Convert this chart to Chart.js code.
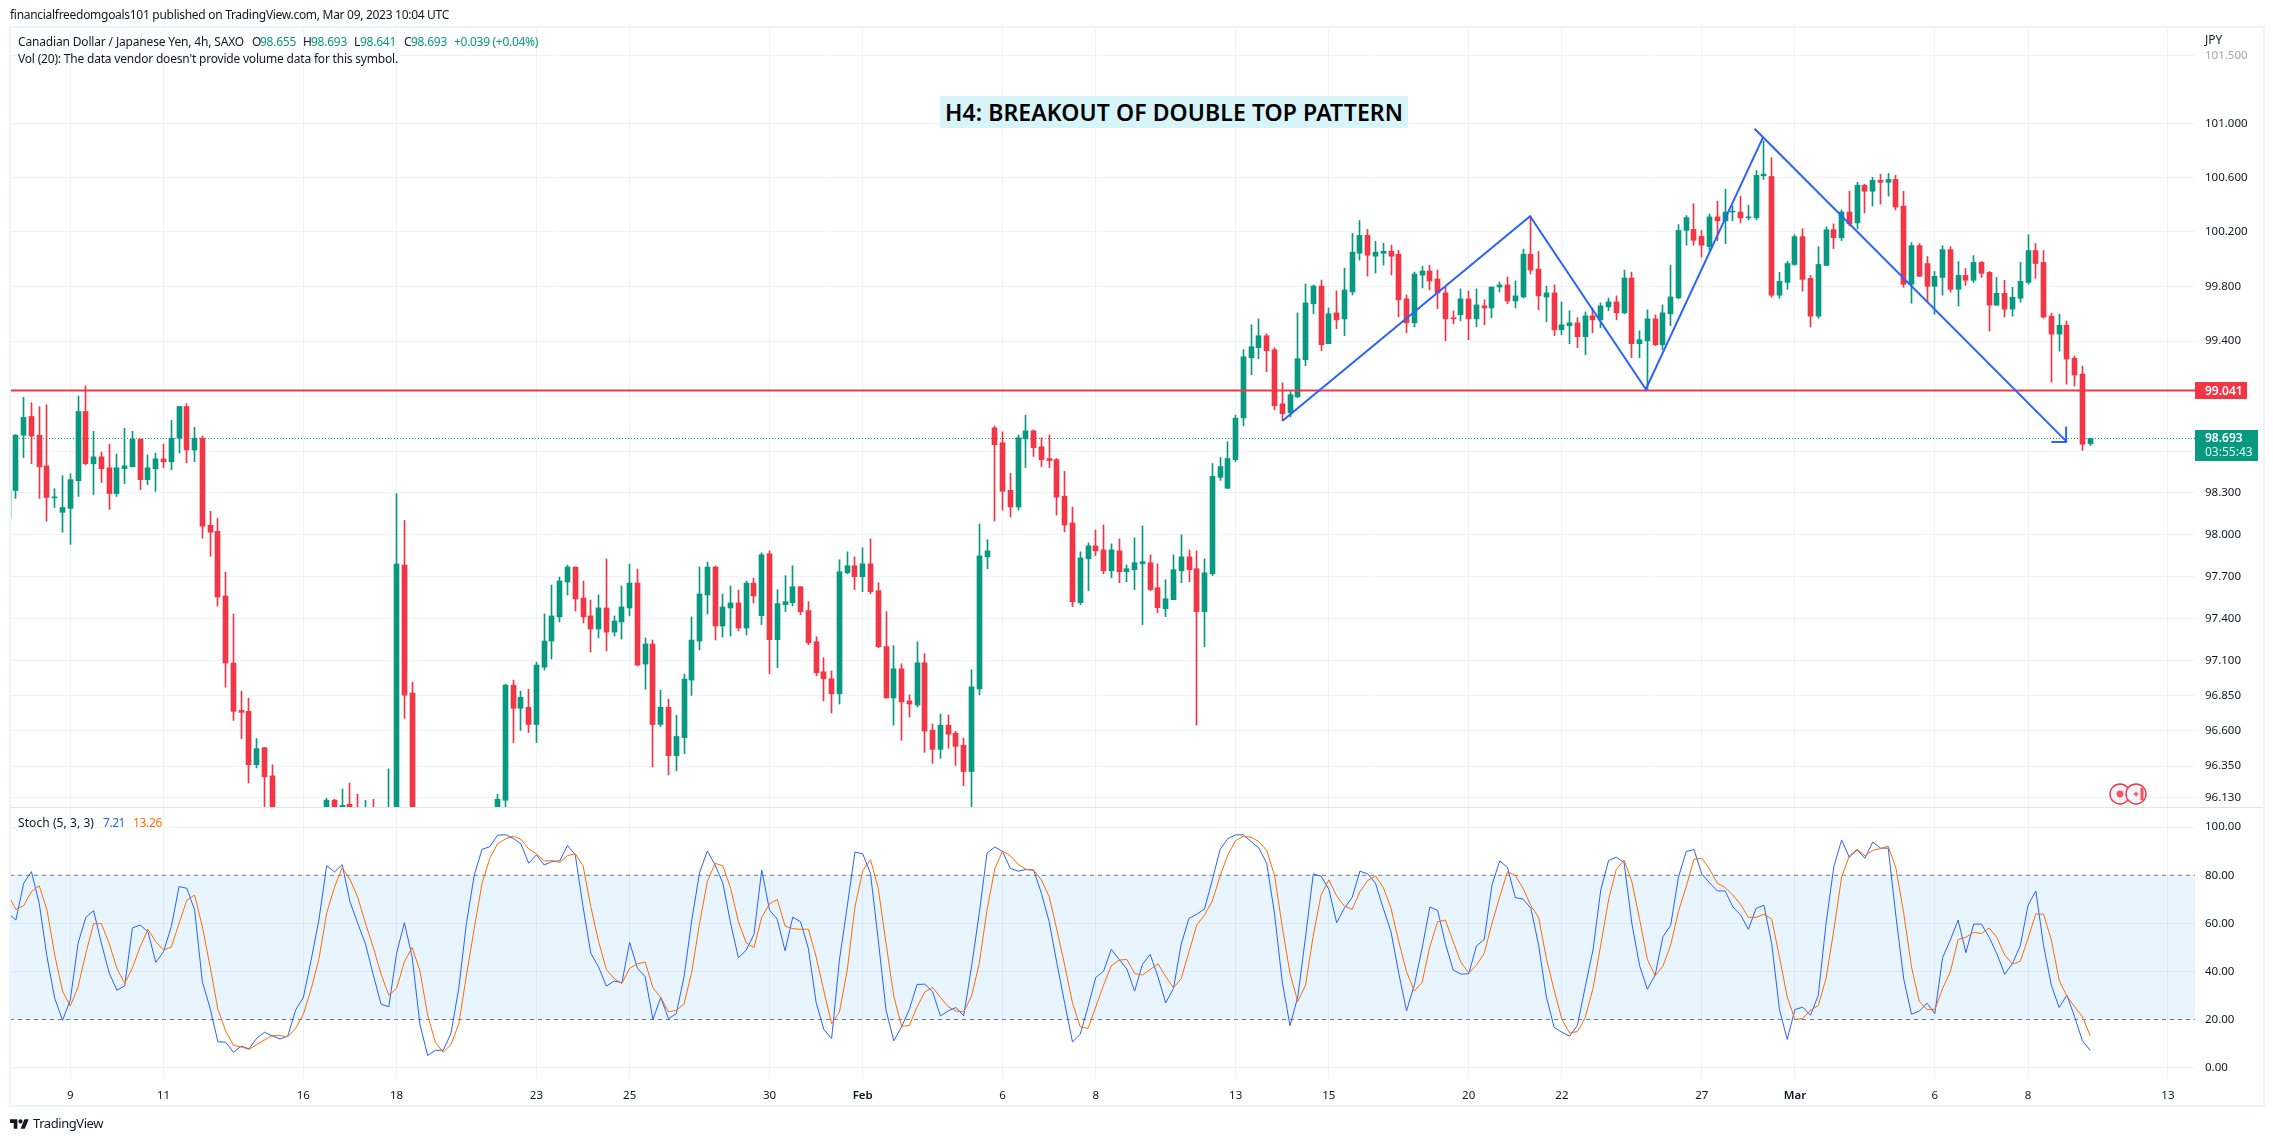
<!DOCTYPE html>
<html><head><meta charset="utf-8">
<script src="https://cdn.jsdelivr.net/npm/chart.js@4/dist/chart.umd.min.js"></script>
<style>
html,body{margin:0;padding:0;background:#fff;width:2273px;height:1141px;overflow:hidden}
canvas{position:absolute;left:0}
.t{position:absolute;white-space:nowrap;font-family:"Noto Sans",sans-serif;font-size:12px;line-height:16px;color:#131722}
.g{color:#089981}
</style></head><body>
<canvas id="main" width="2273" height="807" style="top:0"></canvas>
<canvas id="osc" width="2273" height="334" style="top:807px"></canvas>
<div style="position:absolute;left:9px;top:26px;width:2252px;height:1077px;border:2px solid #f0f3fa"></div>
<div style="position:absolute;left:10px;top:807px;width:2253px;height:1px;background:#e0e3eb"></div>

<div class="t" data-w="439" style="left:10px;top:7px">financialfreedomgoals101 published on TradingView.com, Mar 09, 2023 10:04 UTC</div>
<div class="t" data-w="226" style="left:18px;top:34px">Canadian Dollar / Japanese Yen, 4h, SAXO</div>
<div class="t" data-w="8" style="left:252px;top:34px">O</div><div class="t g" data-w="36" style="left:260px;top:34px">98.655</div>
<div class="t" data-w="8" style="left:303px;top:34px">H</div><div class="t g" data-w="36" style="left:311px;top:34px">98.693</div>
<div class="t" data-w="6" style="left:354px;top:34px">L</div><div class="t g" data-w="36" style="left:360px;top:34px">98.641</div>
<div class="t" data-w="7" style="left:404px;top:34px">C</div><div class="t g" data-w="36" style="left:411px;top:34px">98.693</div>
<div class="t g" data-w="84" style="left:454px;top:34px">+0.039 (+0.04%)</div>
<div class="t" data-w="380" style="left:18px;top:51px">Vol (20): The data vendor doesn't provide volume data for this symbol.</div>
<div class="t" style="left:940px;top:96px;width:468px;height:32px;background:#d7f4f9"></div>
<div class="t" data-w="458" style="left:945px;top:96px;font-size:23px;line-height:32px;font-weight:600;color:#000">H4: BREAKOUT OF DOUBLE TOP PATTERN</div>
<div class="t" style="left:2205px;top:32px">JPY</div>
<div class="t" data-w="76" style="left:18px;top:815px">Stoch (5, 3, 3)</div>
<div class="t" data-w="22" style="left:103px;top:815px;color:#2962ff">7.21</div>
<div class="t" data-w="29" style="left:133px;top:815px;color:#ff6d00">13.26</div>

<div class="t" style="left:2195px;top:382px;width:52px;height:17px;background:#f23645"></div>
<div class="t" style="left:2205px;top:382px;color:#fff;font-weight:600;line-height:18px">99.041</div>
<div class="t" style="left:2195px;top:430px;width:63px;height:31px;background:#089981"></div>
<div class="t" style="left:2205px;top:430px;color:#fff;font-weight:600">98.693</div>
<div class="t" style="left:2205px;top:444px;color:#e3f5f1">03:55:43</div>

<svg style="position:absolute;left:2108px;top:782px" width="40" height="24" viewBox="0 0 40 24">
<circle cx="12" cy="12" r="10" fill="#f0f3fa" stroke="#f23645" stroke-width="1.4"/><circle cx="12" cy="12" r="3.4" fill="#f7525f"/>
<circle cx="28" cy="12" r="10" fill="#f0f3fa" stroke="#f23645" stroke-width="1.4"/>
<path d="M28 9l1 2 2 1-2 1-1 2-1-2-2-1 2-1z" fill="#f7525f"/><rect x="32.5" y="6" width="3" height="12" fill="#f7525f"/></svg>
<svg style="position:absolute;left:10px;top:1117px" width="19" height="13" viewBox="0 0 36 24"><path fill="#131722" d="M14 22H7V11H0V4h14v18zM28 22h-8l7.5-18h8L28 22z"/><circle cx="20" cy="8" r="4" fill="#131722"/></svg>
<div class="t" data-w="70" style="left:33px;top:1115px;font-size:13px;color:#131722">TradingView</div>

<script>
const opens=[98.12,98.317,98.717,98.852,98.717,98.495,98.264,98.16,98.188,98.388,98.888,98.51,98.56,98.481,98.295,98.474,98.488,98.688,98.395,98.474,98.545,98.524,98.695,98.924,98.61,98.695,98.067,98.024,97.56,97.081,96.745,96.738,96.36,96.481,96.281,95.98,95.9,95.95,95.86,95.92,95.88,95.97,96.11,96.0,96.081,96.0,95.93,96.0,95.95,95.98,95.98,97.781,96.867,95.95,95.9,95.85,95.92,95.87,95.93,95.97,95.91,95.96,95.99,96.02,96.11,96.924,96.76,96.767,96.645,97.052,97.238,97.41,97.66,97.767,97.545,97.417,97.324,97.474,97.302,97.374,97.474,97.652,97.074,97.217,96.645,96.767,96.424,96.552,96.96,97.238,97.567,97.767,97.345,97.474,97.51,97.331,97.652,97.419,97.862,97.248,97.498,97.512,97.626,97.455,97.233,97.019,96.969,96.862,97.726,97.776,97.698,97.79,97.598,97.198,96.833,97.04,96.812,96.783,97.083,96.605,96.469,96.64,96.583,96.498,96.312,96.898,97.84,98.769,98.662,98.319,98.198,98.69,98.748,98.633,98.548,98.54,98.276,98.083,97.512,97.826,97.919,97.89,97.74,97.883,97.733,97.748,97.79,97.798,97.619,97.469,97.533,97.74,97.84,97.755,97.448,97.719,98.412,98.333,98.54,98.842,99.279,99.352,99.439,99.337,98.944,98.879,98.995,99.264,99.672,99.802,99.381,99.606,99.562,99.759,100.042,100.173,100.021,100.042,100.057,100.035,99.708,99.533,99.882,99.912,99.853,99.752,99.57,99.592,99.708,99.562,99.657,99.642,99.795,99.81,99.693,99.722,100.035,99.926,99.722,99.752,99.482,99.512,99.533,99.432,99.584,99.555,99.65,99.686,99.606,99.861,99.381,99.402,99.562,99.373,99.599,99.715,100.21,100.217,100.166,100.091,100.309,100.28,100.345,100.345,100.302,100.302,100.612,100.607,99.735,99.829,99.96,100.164,99.858,99.582,99.953,100.215,100.156,100.345,100.265,100.542,100.498,100.578,100.564,100.585,100.389,99.815,100.098,99.967,99.8,99.865,100.069,99.778,99.88,99.844,99.975,99.902,99.662,99.749,99.633,99.713,99.829,100.062,99.975,99.582,99.451,99.516,99.276,99.16,98.655];
const highs=[98.33,98.72,98.99,98.952,98.924,98.938,98.33,98.424,98.438,99.0,99.074,98.745,98.595,98.652,98.581,98.767,98.745,98.688,98.574,98.588,98.652,98.824,98.924,98.945,98.774,98.71,98.167,98.117,97.731,97.431,96.881,96.831,96.545,96.481,96.36,96.03,96.0,96.02,95.98,96.0,96.03,96.124,96.117,96.188,96.231,96.152,96.11,96.117,96.03,96.331,98.295,98.102,96.945,96.0,95.97,95.98,96.0,96.0,96.02,96.02,96.01,96.03,96.05,96.152,96.931,96.96,96.881,96.895,97.088,97.431,97.638,97.695,97.781,97.767,97.667,97.531,97.567,97.824,97.417,97.631,97.788,97.752,97.26,97.245,96.888,96.824,96.71,97.002,97.41,97.767,97.802,97.774,97.574,97.631,97.602,97.667,97.688,97.869,97.883,97.605,97.705,97.776,97.626,97.519,97.269,97.119,97.026,97.819,97.876,97.84,97.905,97.969,97.655,97.448,97.205,97.076,96.855,97.233,97.148,96.648,96.719,96.712,96.598,96.548,97.033,98.076,97.962,98.783,98.74,98.44,98.719,98.862,98.755,98.698,98.719,98.548,98.455,98.198,97.876,97.94,98.033,98.069,97.933,97.969,97.783,97.976,98.062,97.855,97.79,97.676,97.855,97.998,97.89,97.883,97.826,98.512,98.555,98.669,98.862,99.337,99.519,99.562,99.453,99.352,99.097,99.032,99.606,99.817,99.81,99.846,99.642,99.766,99.933,100.188,100.282,100.217,100.13,100.115,100.101,100.064,99.737,99.904,99.948,99.955,99.919,99.795,99.621,99.781,99.766,99.781,99.701,99.795,99.832,99.868,99.839,100.072,100.312,100.057,99.802,99.81,99.686,99.621,99.57,99.613,99.642,99.679,99.715,99.73,99.919,99.904,99.475,99.628,99.592,99.664,99.955,100.253,100.319,100.406,100.21,100.331,100.425,100.513,100.389,100.462,100.396,100.651,100.869,100.745,99.902,99.982,100.178,100.222,99.88,100.091,100.236,100.258,100.36,100.498,100.564,100.549,100.6,100.622,100.629,100.615,100.498,100.12,100.113,100.018,99.909,100.098,100.091,99.982,99.931,100.025,99.982,99.909,99.865,99.844,99.793,99.975,100.178,100.113,100.062,99.604,99.596,99.545,99.291,99.218,98.693];
const lows=[98.12,98.26,98.555,98.51,98.26,98.095,98.195,98.017,97.93,98.274,98.502,98.288,98.374,98.181,98.274,98.367,98.488,98.324,98.36,98.31,98.481,98.467,98.588,98.517,98.524,97.974,97.845,97.488,96.91,96.674,96.545,96.231,96.338,95.95,95.9,95.82,95.8,95.8,95.78,95.82,95.84,95.9,95.95,95.97,95.95,95.9,95.9,95.9,95.9,95.9,95.9,96.688,95.9,95.8,95.8,95.8,95.8,95.82,95.88,95.86,95.88,95.9,95.93,95.97,95.99,96.517,96.602,96.588,96.517,97.031,97.11,97.374,97.567,97.452,97.367,97.16,97.26,97.167,97.274,97.252,97.417,97.06,96.895,96.345,96.631,96.288,96.317,96.438,96.852,97.174,97.431,97.245,97.267,97.274,97.31,97.281,97.51,97.355,97.005,97.048,97.448,97.49,97.426,97.212,96.99,96.812,96.726,96.79,97.719,97.605,97.59,97.576,97.19,96.833,96.64,96.533,96.698,96.769,96.448,96.369,96.405,96.476,96.355,96.212,96.057,96.855,97.755,98.098,98.176,98.126,98.176,98.483,98.562,98.49,98.483,98.14,98.019,97.483,97.498,97.598,97.848,97.719,97.69,97.655,97.662,97.605,97.355,97.598,97.44,97.412,97.533,97.655,97.662,96.64,97.198,97.705,98.39,98.333,98.526,98.784,99.155,99.272,99.177,98.901,98.821,98.85,98.988,99.221,99.599,99.33,99.381,99.49,99.439,99.737,99.992,99.875,99.897,99.955,99.882,99.577,99.461,99.504,99.788,99.773,99.635,99.402,99.526,99.548,99.41,99.504,99.519,99.57,99.759,99.672,99.642,99.715,99.89,99.628,99.541,99.439,99.446,99.381,99.352,99.301,99.461,99.497,99.621,99.555,99.599,99.279,99.279,99.046,99.366,99.337,99.512,99.708,100.101,100.101,100.013,100.062,100.135,100.113,100.28,100.265,100.287,100.287,100.585,99.72,99.713,99.778,99.953,99.764,99.502,99.567,99.953,100.076,100.135,100.244,100.222,100.338,100.389,100.404,100.462,100.36,99.793,99.676,99.873,99.684,99.596,99.735,99.756,99.655,99.807,99.829,99.865,99.473,99.662,99.575,99.582,99.684,99.815,99.858,99.567,99.102,99.327,99.087,99.073,98.607,98.641];
const closes=[98.32,98.717,98.845,98.71,98.488,98.267,98.269,98.195,98.395,98.888,98.51,98.56,98.474,98.295,98.481,98.495,98.688,98.395,98.481,98.545,98.524,98.695,98.924,98.61,98.695,98.06,98.017,97.552,97.081,96.738,96.731,96.36,96.474,96.274,95.98,95.9,95.95,95.86,95.92,95.88,95.97,96.11,96.0,96.074,95.99,95.93,96.0,95.95,95.98,96.03,97.788,96.852,95.95,95.9,95.85,95.92,95.87,95.93,95.97,95.91,95.96,95.99,96.02,96.117,96.924,96.76,96.838,96.645,97.067,97.238,97.417,97.667,97.767,97.538,97.41,97.324,97.474,97.302,97.381,97.481,97.652,97.067,97.217,96.645,96.767,96.424,96.56,96.967,97.245,97.574,97.767,97.345,97.481,97.51,97.331,97.652,97.56,97.855,97.248,97.505,97.519,97.626,97.448,97.226,97.012,96.969,96.862,97.733,97.776,97.698,97.79,97.59,97.198,96.833,97.04,96.805,96.79,97.083,96.598,96.469,96.64,96.576,96.49,96.312,96.912,97.848,97.883,98.648,98.312,98.198,98.698,98.748,98.626,98.54,98.533,98.269,98.069,97.519,97.833,97.919,97.883,97.74,97.89,97.733,97.755,97.798,97.805,97.605,97.476,97.54,97.748,97.84,97.748,97.448,97.726,98.419,98.49,98.548,98.84,99.286,99.359,99.439,99.33,98.93,98.872,99.01,99.272,99.679,99.802,99.373,99.599,99.555,99.773,100.05,100.173,100.028,100.05,100.057,100.021,99.701,99.533,99.89,99.912,99.839,99.752,99.562,99.562,99.708,99.562,99.664,99.642,99.795,99.81,99.693,99.73,100.035,99.919,99.73,99.752,99.482,99.519,99.533,99.432,99.584,99.555,99.657,99.686,99.606,99.861,99.381,99.41,99.562,99.373,99.606,99.722,100.21,100.304,100.137,100.101,100.309,100.28,100.345,100.35,100.302,100.309,100.615,100.624,99.735,99.836,99.967,100.164,99.851,99.582,99.96,100.215,100.156,100.345,100.258,100.542,100.498,100.578,100.564,100.585,100.382,99.815,100.098,99.873,99.8,99.873,100.069,99.778,99.88,99.844,99.975,99.895,99.662,99.749,99.633,99.72,99.836,100.062,99.967,99.575,99.451,99.516,99.269,99.153,98.651,98.693];
const stochK=[64.2,61.4,76.7,81.5,68.3,46.1,28.8,19.7,28.1,51.7,62.5,65.3,51.7,39.4,32.2,34.0,58.1,59.3,56.5,43.8,48.2,58.6,75.3,74.6,65.6,35.7,24.6,10.7,10.6,6.4,8.9,7.8,12.2,14.7,13.2,11.9,13.2,23.9,29.2,44.7,61.4,84.0,81.4,84.4,69.0,60.0,51.4,38.5,26.4,25.3,47.5,60.3,46.1,18.1,5.0,7.2,7.2,14.2,32.9,60.3,80.1,90.8,91.9,96.7,96.9,95.4,93.1,85.0,88.5,84.3,85.7,86.0,92.4,88.5,66.9,47.5,41.9,33.9,36.0,35.3,52.1,41.3,37.8,20.0,29.2,20.3,22.5,37.8,61.4,81.1,90.1,84.3,76.7,60.0,45.6,48.9,55.4,82.2,65.6,61.7,48.6,62.6,60.7,49.6,27.1,15.8,12.1,44.7,66.9,89.7,88.9,80.8,53.1,23.9,11.1,16.9,24.2,34.6,34.7,31.5,21.5,23.6,25.0,21.5,41.9,64.2,89.2,91.8,89.9,82.9,81.7,82.4,82.2,72.5,60.7,43.3,26.7,10.7,13.9,25.3,37.5,40.1,49.2,45.0,41.0,31.8,42.9,47.1,37.8,26.9,32.9,51.4,62.1,63.8,66.0,78.1,90.7,95.3,96.8,96.8,94.0,91.3,85.0,64.2,35.7,17.4,29.4,54.4,80.6,79.6,74.2,60.3,66.3,70.8,81.7,80.6,76.7,66.3,56.5,39.2,23.6,34.3,49.6,66.8,65.4,51.7,40.6,38.9,39.0,50.6,53.3,76.0,86.0,83.2,70.7,70.1,66.3,51.0,29.4,16.7,14.7,13.1,17.6,33.6,48.9,73.9,86.1,87.5,85.3,60.0,42.4,32.6,38.5,54.4,59.2,79.2,89.9,90.7,80.6,76.9,73.5,73.5,66.9,63.5,57.5,66.3,67.5,51.7,24.2,11.7,24.2,25.1,21.8,30.1,60.0,83.6,94.7,87.5,90.6,87.1,93.8,91.3,91.3,62.8,36.8,22.2,23.5,26.8,22.5,45.7,53.1,61.4,47.8,59.7,59.7,54.2,47.2,38.8,43.3,50.7,67.5,73.5,50.7,34.3,25.0,30.1,21.1,11.1,7.21];
const stochD=[71.8,65.8,67.4,73.2,75.6,65.6,46.8,31.8,25.6,33.6,47.5,59.9,59.9,51.7,41.3,35.0,41.5,50.3,57.5,52.4,48.9,50.1,60.0,69.7,71.8,58.6,41.9,24.2,15.3,9.2,8.6,7.6,9.6,11.5,13.3,13.3,12.8,16.3,22.2,32.6,45.1,64.2,75.0,83.2,78.3,70.8,60.0,50.0,38.9,30.1,32.9,44.0,50.0,40.3,21.8,10.4,6.4,9.6,18.1,38.5,57.9,76.7,87.1,93.1,95.1,96.3,95.0,91.0,88.9,86.0,86.1,85.4,88.2,88.9,84.0,66.9,52.4,40.8,37.1,35.0,41.3,43.2,43.9,33.2,29.2,23.2,23.8,26.4,39.9,60.0,77.4,85.0,83.9,74.6,60.7,51.9,49.9,62.5,68.1,70.0,58.9,57.8,57.5,57.6,46.1,31.8,18.3,23.1,40.3,66.9,81.8,86.5,74.6,51.7,29.7,17.2,17.5,25.3,31.5,33.3,29.2,25.3,23.5,23.2,29.7,43.3,65.6,82.6,90.1,88.1,84.6,82.5,82.1,78.1,71.1,57.2,42.6,26.9,16.9,16.3,25.3,34.3,42.4,44.7,45.0,39.2,38.5,40.8,43.2,37.8,33.2,37.1,48.2,59.3,63.5,69.3,79.7,88.5,94.4,96.3,95.8,94.0,90.3,80.1,58.6,39.2,27.5,34.3,55.1,71.8,78.1,71.4,67.2,65.8,73.2,77.8,79.7,75.0,66.3,52.4,39.9,31.9,35.4,50.3,60.7,61.4,52.4,43.8,39.4,42.6,47.5,60.0,71.1,81.5,79.9,74.6,67.4,62.5,45.4,32.2,20.0,14.4,15.0,20.8,32.9,51.0,69.7,82.5,86.3,77.4,61.7,45.0,38.2,42.2,51.0,64.9,75.3,86.7,87.1,82.6,76.7,74.9,71.8,67.9,62.5,62.5,63.8,61.8,46.1,29.4,20.0,20.4,23.9,25.8,37.1,57.2,79.2,88.1,90.8,88.1,90.4,91.1,92.1,82.9,64.2,41.9,27.4,24.2,24.2,32.9,39.9,53.3,54.2,56.3,55.8,58.1,54.0,46.8,43.1,44.2,53.8,63.9,63.8,53.1,36.4,29.7,25.3,21.1,13.26];
const dateTickIndex=[8,20,38,50,68,80,98,110,128,140,158,170,188,200,218,230,248,260,278];
const dateTickLabels=['9','11','16','18','23','25','30','Feb','6','8','13','15','20','22','27','Mar','6','8','13'];
const priceTicks=[101.5,101,100.6,100.2,99.8,99.4,99,98.6,98.3,98,97.7,97.4,97.1,96.85,96.6,96.35,96.13];
const stochTicks=[100,80,60,40,20,0];
const resistanceLevel=99.041, lastPrice=98.693, bandTop=80, bandBottom=20;
const zigzagIndex=[164,195.9,210.8,225.9], zigzagPrice=[98.82,100.314,99.05,100.898];
const legIndex=[224.8,265], legPrice=[100.96,98.668];
const arrowIndex=[263,265,264.9], arrowPrice=[98.668,98.668,98.777];

const UP='#089981',DOWN='#f23645',GRID='#f0f3fa',TXT='#131722';
const XMIN=0.238,XMAX=281.49;
const AXFONT={family:'"Noto Sans",sans-serif',size:11.5};
const pts=(xs,ys)=>xs.map((x,i)=>({x,y:ys[i]}));
const hline=y=>[{x:XMIN,y},{x:XMAX,y}];
const colors=opens.map((o,i)=>closes[i]>=o?UP:DOWN);
const snap={id:'snap',afterDatasetsUpdate(c){c.getSortedVisibleDatasetMetas().forEach(m=>{if(m.type==='bar')m.data.forEach(e=>{e.x=Math.floor(e.x)+.5;});});}};
const line=(data,color,width,extra)=>Object.assign({type:'line',data,borderColor:color,borderWidth:width,pointRadius:0,tension:0,fill:false},extra||{});
const xScale=(show)=>({type:'linear',min:XMIN,max:XMAX,offset:false,
  afterBuildTicks:s=>{s.ticks=dateTickIndex.map(v=>({value:v}));},
  afterFit:s=>{s.height=show?63:0;s.paddingLeft=0;s.paddingRight=0;},
  grid:{color:GRID,drawTicks:false,offset:false},border:{display:false},
  ticks:{display:show,autoSkip:false,maxRotation:0,padding:11,color:TXT,
    font:c=>{const l=dateTickLabels[dateTickIndex.indexOf(c.tick&&c.tick.value)];return Object.assign({},AXFONT,{weight:(l==='Feb'||l==='Mar')?'600':'400'});},
    callback:v=>dateTickLabels[dateTickIndex.indexOf(v)]}});
const yOpts={position:'right',afterFit:s=>{s.width=78;s.paddingTop=0;s.paddingBottom=0;},grid:{color:GRID,drawTicks:false},border:{display:false}};

new Chart(document.getElementById('main'),{type:'bar',plugins:[snap],data:{datasets:[
  line(pts(zigzagIndex,zigzagPrice),'#2962ff',2,{order:1}),
  line(pts(legIndex,legPrice),'#2962ff',2,{order:1}),
  line(pts(arrowIndex,arrowPrice),'#2962ff',2,{order:1}),
  line(hline(resistanceLevel),DOWN,2,{order:2}),
  {type:'bar',grouped:false,order:3,barThickness:5,minBarLength:1,backgroundColor:colors,borderWidth:0,data:opens.map((o,i)=>({x:i,y:[o,closes[i]]}))},
  {type:'bar',grouped:false,order:4,barThickness:1,backgroundColor:colors,borderWidth:0,data:lows.map((l,i)=>({x:i,y:[l,highs[i]]}))},
  line(hline(lastPrice),UP,1,{order:5,borderDash:[1,2]})
]},options:{responsive:false,animation:false,events:[],
  layout:{padding:{left:10,top:28,right:0,bottom:0}},
  plugins:{legend:{display:false},tooltip:{enabled:false},title:{display:false}},
  scales:{x:xScale(false),y:Object.assign({},yOpts,{type:'logarithmic',min:96.062,max:101.708,
    afterBuildTicks:s=>{s.ticks=priceTicks.map(v=>({value:v}));},
    ticks:{autoSkip:false,padding:10,crossAlign:'near',font:AXFONT,color:c=>c.tick&&c.tick.value===101.5?'#a3a6af':TXT,callback:v=>Number(v).toFixed(3)}})}
}});

new Chart(document.getElementById('osc'),{type:'line',plugins:[snap],data:{datasets:[
  line(stochD.map((v,i)=>({x:i,y:v})),'#ff6d00',1,{order:1}),
  line(stochK.map((v,i)=>({x:i,y:v})),'#2962ff',1,{order:2}),
  line(hline(bandTop),'#787b86',1,{order:3,borderDash:[4,4],fill:{target:{value:bandBottom},above:'rgba(33,150,243,0.1)',below:'rgba(33,150,243,0.1)'}}),
  line(hline(bandBottom),'#787b86',1,{order:3,borderDash:[4,4]})
]},options:{responsive:false,animation:false,events:[],
  layout:{padding:{left:10,top:0.5,right:0,bottom:0}},
  plugins:{legend:{display:false},tooltip:{enabled:false},title:{display:false},filler:{drawTime:'beforeDatasetsDraw'}},
  scales:{x:xScale(true),y:Object.assign({},yOpts,{type:'linear',min:-4.33,max:108.2,
    afterBuildTicks:s=>{s.ticks=stochTicks.map(v=>({value:v}));},
    ticks:{autoSkip:false,padding:10,crossAlign:'near',font:AXFONT,color:TXT,callback:v=>Number(v).toFixed(2)}})}
}});

document.querySelectorAll('[data-w]').forEach(el=>{
  const t=+el.dataset.w,n=el.textContent.length;if(!n)return;
  const w=el.getBoundingClientRect().width;
  el.style.letterSpacing=((t-w)/n).toFixed(3)+'px';
});
</script>
</body></html>
